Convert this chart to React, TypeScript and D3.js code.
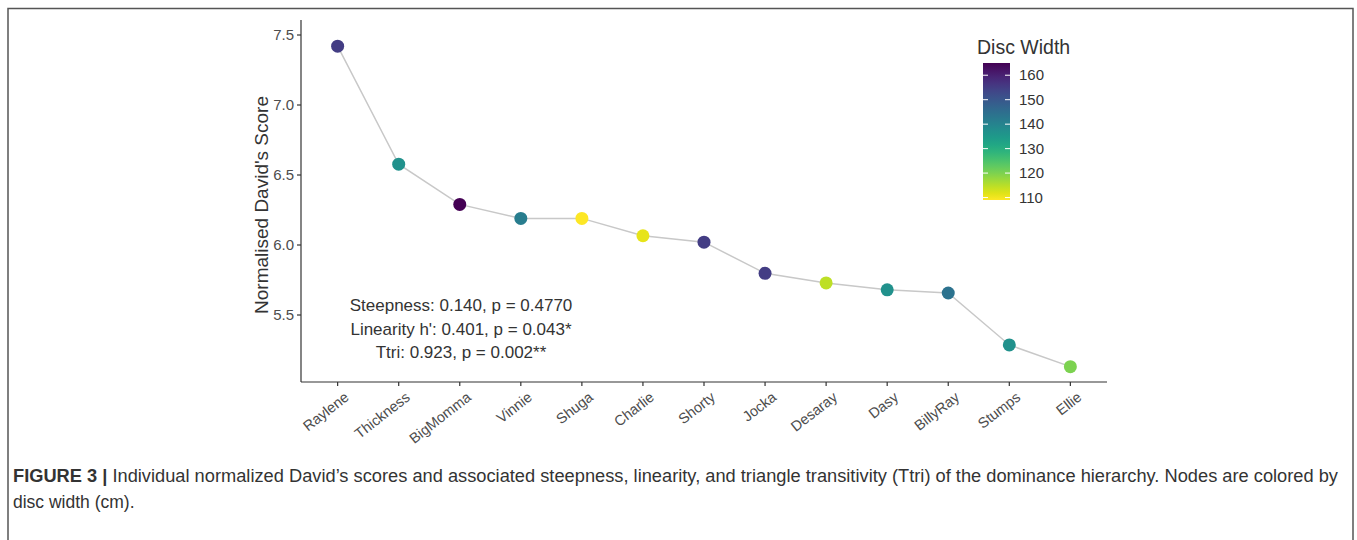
import React from "react";
import * as d3 from "d3";

const names = ["Raylene","Thickness","BigMomma","Vinnie","Shuga","Charlie","Shorty","Jocka","Desaray","Dasy","BillyRay","Stumps","Ellie"];
const scores = [7.42,6.577,6.29,6.19,6.19,6.066,6.02,5.798,5.729,5.68,5.657,5.286,5.131];
const discWidth = [155,137,165,141.5,109,111,155,155,114.6,137,144,137,120];
const yTicks = [5.5,6.0,6.5,7.0,7.5];
const legendTicks = [110,120,130,140,150,160];
const statLines = ["Steepness: 0.140, p = 0.4770","Linearity h': 0.401, p = 0.043*","Ttri: 0.923, p = 0.002**"];
const captionBold = "FIGURE 3 |";
const captionLine1 = " Individual normalized David\u2019s scores and associated steepness, linearity, and triangle transitivity (Ttri) of the dominance hierarchy. Nodes are colored by";
const captionLine2 = "disc width (cm).";

const W = 1357, H = 540;
const plot = { left: 301, right: 1107, top: 20, bottom: 382 };

export default function App() {
  const x = d3.scalePoint<string>().domain(names).range([plot.left, plot.right]).padding(0.6);
  const y = d3.scaleLinear().domain([7.5 - (382 - 35) / 140, 7.5]).range([382, 35]);
  const cMin = d3.min(discWidth)!, cMax = d3.max(discWidth)!;
  const color = (v: number) => d3.interpolateViridis((cMax - v) / (cMax - cMin));
  const line = d3.line<number>().x((_, i) => x(names[i])!).y(d => y(d));

  const lb = { x: 983, w: 27, top: 63, bottom: 200 };
  const ly = d3.scaleLinear().domain([cMin, cMax]).range([lb.bottom, lb.top]);
  const stops = d3.range(0, 1.0001, 0.05);

  const font = "'Liberation Sans', Arial, Helvetica, sans-serif";
  return (
    <svg width={W} height={H} style={{ position: "absolute", left: 0, top: 0, background: "#fff" }} fontFamily={font}>
      <defs>
        <linearGradient id="vgrad" x1="0" y1="1" x2="0" y2="0">
          {stops.map((t, i) => (
            <stop key={i} offset={t} stopColor={d3.interpolateViridis(1 - t)} />
          ))}
        </linearGradient>
      </defs>
      <rect x={0} y={0} width={W} height={H} fill="#fff" />
      <path d={`M8,${H} V8.5 H1353 V${H}`} fill="none" stroke="#555" strokeWidth={1.5} />

      {/* axes */}
      <line x1={plot.left} x2={plot.left} y1={plot.top} y2={plot.bottom} stroke="#333" strokeWidth={1.2} />
      <line x1={plot.left} x2={plot.right} y1={plot.bottom} y2={plot.bottom} stroke="#333" strokeWidth={1.2} />
      {yTicks.map(t => (
        <g key={t}>
          <line x1={plot.left - 4} x2={plot.left} y1={y(t)} y2={y(t)} stroke="#333" strokeWidth={1.2} />
          <text x={plot.left - 7} y={y(t)} dy="0.35em" textAnchor="end" fontSize={15} fill="#4d4d4d">{t.toFixed(1)}</text>
        </g>
      ))}
      {names.map(n => (
        <g key={n}>
          <line x1={x(n)!} x2={x(n)!} y1={plot.bottom} y2={plot.bottom + 4} stroke="#333" strokeWidth={1.2} />
          <text transform={`translate(${x(n)! + 6},${plot.bottom + 9}) rotate(-38)`} textAnchor="end" dy="0.7em" fontSize={14.5} fill="#4d4d4d">{n}</text>
        </g>
      ))}
      <text transform={`translate(268,${205}) rotate(-90)`} textAnchor="middle" fontSize={19} fill="#333">Normalised David's Score</text>

      {/* data */}
      <path d={line(scores)!} fill="none" stroke="#c8c8c8" strokeWidth={1.5} />
      {scores.map((s, i) => (
        <circle key={i} cx={x(names[i])!} cy={y(s)} r={6.5} fill={color(discWidth[i])} />
      ))}

      {/* stats */}
      {statLines.map((s, i) => (
        <text key={i} x={461} y={311 + i * 23.5} textAnchor="middle" fontSize={17} fill="#333">{s}</text>
      ))}

      {/* legend */}
      <text x={977} y={54} fontSize={19.5} fill="#333">Disc Width</text>
      <rect x={lb.x} y={lb.top} width={lb.w} height={lb.bottom - lb.top} fill="url(#vgrad)" />
      {legendTicks.map(t => (
        <g key={t}>
          <line x1={lb.x} x2={lb.x + 5} y1={ly(t)} y2={ly(t)} stroke="#fff" strokeWidth={1} />
          <line x1={lb.x + lb.w - 5} x2={lb.x + lb.w} y1={ly(t)} y2={ly(t)} stroke="#fff" strokeWidth={1} />
          <text x={1019} y={ly(t)} dy="0.35em" fontSize={15} fill="#333">{t}</text>
        </g>
      ))}

      {/* caption */}
      <text x={13} y={482} fontSize={17.5} fill="#333" textLength={1325} lengthAdjust="spacingAndGlyphs">
        <tspan fontWeight="bold">{captionBold}</tspan>
        <tspan>{captionLine1}</tspan>
      </text>
      <text x={13} y={508} fontSize={17.5} fill="#333">{captionLine2}</text>
    </svg>
  );
}
